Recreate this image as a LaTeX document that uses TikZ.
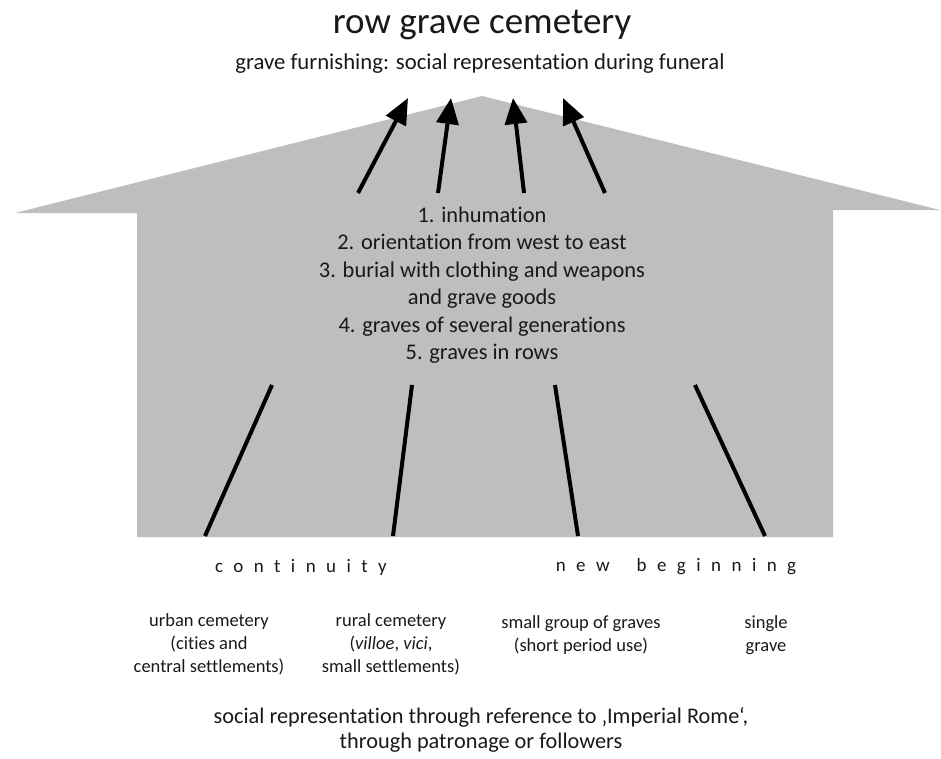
\documentclass[tikz,border=0pt]{standalone}
\usepackage{fontspec}
\setmainfont{Carlito}[Ligatures=NoCommon]
\usetikzlibrary{arrows.meta}
\begin{document}
\begin{tikzpicture}[x=1pt,y=-1pt,
  txt/.style={inner sep=0pt,align=center,text=black!90},
  up/.style={line width=4pt,-{Triangle[length=26pt,width=22pt]}},
  leg/.style={line width=4pt},
  spaced/.style={font=\fontsize{19}{22}\selectfont\addfontfeatures{LetterSpace=55},inner sep=0pt,text=black!90}]
\useasboundingbox (0,0) rectangle (941,758);
\fill[fill={rgb,255:red,188;green,190;blue,192}]
  (15,213) -- (482,96) -- (940,210) -- (833,210) -- (833,537) -- (137,537) -- (137,213) -- cycle;
\node[txt,font=\fontsize{37}{40}\selectfont] (title) at (482,25) {row grave cemetery};
\node[txt,font=\fontsize{22.7}{25}\selectfont] (sub) at (480,64) {grave furnishing: social representation during funeral};
\node[txt,font=\fontsize{22.4}{27.5}\selectfont] (crit) at (482,285) {1. inhumation\\2. orientation from west to east\\3. burial with clothing and weapons\\and grave goods\\4. graves of several generations\\5. graves in rows};
% arrows up
\coordinate (a1s) at (358,193); \coordinate (a1e) at (408,98);
\coordinate (a2s) at (438,193); \coordinate (a2e) at (451,98);
\coordinate (a3s) at (524,193); \coordinate (a3e) at (513,98);
\coordinate (a4s) at (605,193); \coordinate (a4e) at (563,98);
\draw[up] (a1s) -- (a1e);
\draw[up] (a2s) -- (a2e);
\draw[up] (a3s) -- (a3e);
\draw[up] (a4s) -- (a4e);
% legs
\coordinate (l1t) at (272,385); \coordinate (l1b) at (205,536);
\coordinate (l2t) at (412,385); \coordinate (l2b) at (393,536);
\coordinate (l3t) at (555,385); \coordinate (l3b) at (578,536);
\coordinate (l4t) at (695,385); \coordinate (l4b) at (765,536);
\draw[leg] (l1t) -- (l1b);
\draw[leg] (l2t) -- (l2b);
\draw[leg] (l3t) -- (l3b);
\draw[leg] (l4t) -- (l4b);
\node[spaced] (cont) at (301,567) {continuity};
\node[spaced] (newb) at (676,567) {new\hspace{27pt}beginning};
\node[txt,font=\fontsize{18.5}{23}\selectfont] (urb) at (209,644) {urban cemetery\\(cities and\\central settlements)};
\node[txt,font=\fontsize{18.5}{23}\selectfont] (rur) at (391,644) {rural cemetery\\(\textit{villoe}, \textit{vici},\\small settlements)};
\node[txt,font=\fontsize{18.5}{23}\selectfont] (grp) at (581,635) {small group of graves\\(short period use)};
\node[txt,font=\fontsize{18.5}{23}\selectfont] (sgl) at (766,635) {single\\grave};
\node[txt,font=\fontsize{22.3}{25}\selectfont] (soc) at (481,730) {social representation through reference to ‚Imperial Rome‘,\\through patronage or followers};
\end{tikzpicture}
\end{document}
